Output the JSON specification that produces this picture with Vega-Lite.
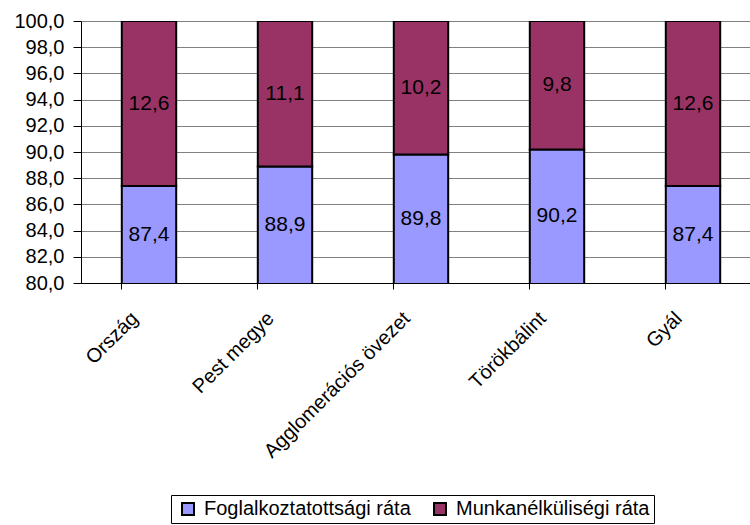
{
  "$schema": "https://vega.github.io/schema/vega-lite/v6.json",
  "autosize": {"type": "none"},
  "padding": {"left": 81, "top": 21, "right": 0, "bottom": 242},
  "width": 680,
  "height": 262,
  "background": "white",
  "config": {
    "font": "Liberation Sans",
    "view": {"stroke": null},
    "axis": {"labelFont": "Liberation Sans", "labelFontSize": 20, "labelColor": "black", "labelOverlap": false}
  },
  "data": {
    "values": [
      {"terulet": "Ország", "sorozat": "Foglalkoztatottsági ráta", "ertek": 87.4, "rend": 1},
      {"terulet": "Ország", "sorozat": "Munkanélküliségi ráta", "ertek": 12.6, "rend": 2},
      {"terulet": "Pest megye", "sorozat": "Foglalkoztatottsági ráta", "ertek": 88.9, "rend": 1},
      {"terulet": "Pest megye", "sorozat": "Munkanélküliségi ráta", "ertek": 11.1, "rend": 2},
      {"terulet": "Agglomerációs övezet", "sorozat": "Foglalkoztatottsági ráta", "ertek": 89.8, "rend": 1},
      {"terulet": "Agglomerációs övezet", "sorozat": "Munkanélküliségi ráta", "ertek": 10.2, "rend": 2},
      {"terulet": "Törökbálint", "sorozat": "Foglalkoztatottsági ráta", "ertek": 90.2, "rend": 1},
      {"terulet": "Törökbálint", "sorozat": "Munkanélküliségi ráta", "ertek": 9.8, "rend": 2},
      {"terulet": "Gyál", "sorozat": "Foglalkoztatottsági ráta", "ertek": 87.4, "rend": 1},
      {"terulet": "Gyál", "sorozat": "Munkanélküliségi ráta", "ertek": 12.6, "rend": 2}
    ]
  },
  "transform": [
    {"stack": "ertek", "groupby": ["terulet"], "sort": [{"field": "rend", "order": "ascending"}], "as": ["y0", "y1"]},
    {"calculate": "(max(80, datum.y0) + datum.y1) / 2", "as": "kozep"},
    {"calculate": "replace(format(datum.ertek, '.1f'), '.', ',')", "as": "felirat"}
  ],
  "encoding": {
    "x": {
      "field": "terulet", "type": "nominal", "sort": null, "title": null,
      "scale": {"paddingInner": 0.6, "paddingOuter": 0.3},
      "axis": {
        "labelAngle": -45, "domainColor": "black", "tickColor": "black", "tickSize": 6,
        "bandPosition": 0, "labelPadding": 26, "domainWidth": 1, "labelFontSize": 20,
        "labelBaseline": "middle", "labelAlign": "right", "labelLimit": 400, "labelOffset": -14
      }
    }
  },
  "layer": [
    {
      "mark": {"type": "bar", "stroke": "black", "strokeWidth": 2, "clip": true},
      "encoding": {
        "y": {
          "field": "y1", "type": "quantitative", "title": null,
          "scale": {"domain": [80, 100], "nice": false, "zero": false},
          "axis": {
            "values": [80, 82, 84, 86, 88, 90, 92, 94, 96, 98, 100],
            "labelExpr": "replace(format(datum.value, '.1f'), '.', ',')",
            "gridColor": "#808080", "gridWidth": 1, "gridOpacity": 1,
            "domainColor": "black", "tickColor": "black", "tickSize": 8, "labelPadding": 9
          }
        },
        "y2": {"field": "y0"},
        "color": {
          "field": "sorozat", "type": "nominal", "title": null,
          "scale": {"domain": ["Foglalkoztatottsági ráta", "Munkanélküliségi ráta"], "range": ["#9999FF", "#993366"]},
          "legend": {
            "orient": "none", "legendX": 90, "legendY": 474, "direction": "horizontal",
            "strokeColor": "black", "padding": 4, "symbolType": "square", "symbolSize": 144,
            "symbolStrokeColor": "black", "symbolStrokeWidth": 2, "symbolOpacity": 1,
            "symbolOffset": 3,
            "labelFontSize": 20, "labelFont": "Liberation Sans", "labelColor": "black",
            "columnPadding": 16, "labelOffset": 6, "fillColor": "white", "labelLimit": 400
          }
        }
      }
    },
    {
      "mark": {"type": "text", "fontSize": 21, "font": "Liberation Sans", "color": "black"},
      "encoding": {
        "y": {
          "field": "kozep", "type": "quantitative",
          "axis": {
            "values": [80, 82, 84, 86, 88, 90, 92, 94, 96, 98, 100],
            "labelExpr": "replace(format(datum.value, '.1f'), '.', ',')",
            "gridColor": "#808080", "gridWidth": 1, "gridOpacity": 1,
            "domainColor": "black", "tickColor": "black", "tickSize": 8, "labelPadding": 9
          }
        },
        "text": {"field": "felirat"}
      }
    }
  ]
}
